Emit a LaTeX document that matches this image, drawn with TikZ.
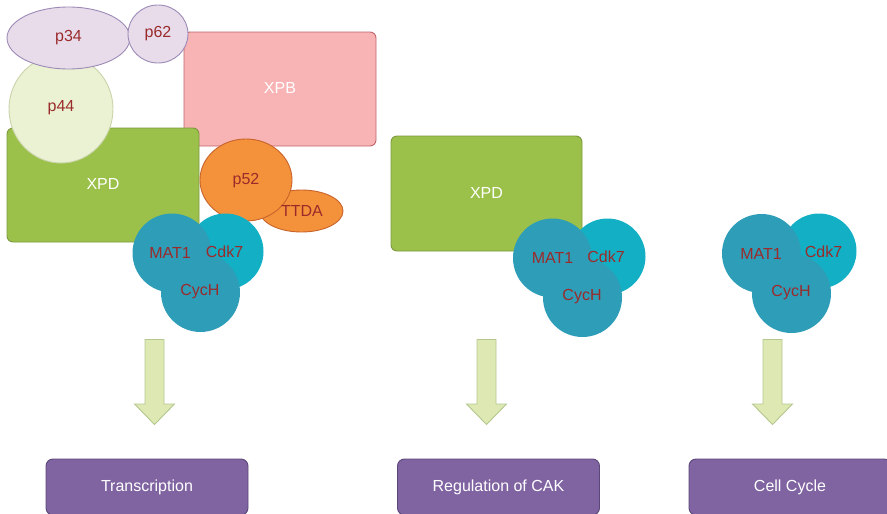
\documentclass[tikz,border=0pt]{standalone}
\usepackage{fontspec}
\setmainfont{Liberation Sans}
\usetikzlibrary{shapes.geometric}
\definecolor{lavfill}{HTML}{E8DCEB}
\definecolor{lavline}{HTML}{9C8AB6}
\definecolor{p44fill}{HTML}{EBF2D3}
\definecolor{p44line}{HTML}{C9D3A9}
\definecolor{xpbfill}{HTML}{F8B3B5}
\definecolor{xpbline}{HTML}{C2646C}
\definecolor{xpdfill}{HTML}{9BC14B}
\definecolor{xpdline}{HTML}{7C993D}
\definecolor{orfill}{HTML}{F4923B}
\definecolor{orline}{HTML}{C8632B}
\definecolor{tealA}{HTML}{2E9DB8}
\definecolor{tealB}{HTML}{13B0C5}
\definecolor{txtred}{HTML}{9A2B2B}
\definecolor{arfill}{HTML}{DEE8B3}
\definecolor{arline}{HTML}{B3C78E}
\definecolor{purfill}{HTML}{8064A2}
\definecolor{purline}{HTML}{5C4779}
\tikzset{
  lbl/.style={font=\fontsize{16}{19}\selectfont, inner sep=0pt},
  rtxt/.style={lbl, text=txtred},
  wtxt/.style={lbl, text=white},
  prot/.style={ellipse, inner sep=0pt},
  lav/.style={prot, fill=lavfill, draw=lavline, line width=0.9pt},
  pfour/.style={prot, fill=p44fill, draw=p44line, line width=0.9pt},
  orng/.style={prot, fill=orfill, draw=orline, line width=0.9pt},
  tcirc/.style={circle, inner sep=0pt, minimum size=79pt, fill=tealA},
  kcirc/.style={circle, inner sep=0pt, minimum size=76pt, fill=tealB},
  xpdbox/.style={rectangle, rounded corners=6pt, fill=xpdfill, draw=xpdline, line width=0.9pt, inner sep=0pt},
  xpbbox/.style={rectangle, rounded corners=6pt, fill=xpbfill, draw=xpbline, line width=0.9pt, inner sep=0pt},
  outbox/.style={rectangle, rounded corners=7pt, fill=purfill, draw=purline, line width=0.9pt, text=white, font=\fontsize{16}{19}\selectfont, minimum width=202pt, minimum height=56pt, inner sep=0pt},
  blockarrow/.style={fill=arfill, draw=arline, line width=0.9pt, line join=miter}
}
\begin{document}
\begin{tikzpicture}[x=1pt,y=-1pt]
\useasboundingbox (0,0) rectangle (887,514);
% left complex shapes
\node[xpbbox, minimum width=192pt, minimum height=114pt] (xpb) at (280,89) {};
\node[xpdbox, minimum width=192pt, minimum height=114pt] (xpd1) at (103,185) {};
\node[pfour, minimum width=104pt, minimum height=108pt] (p44) at (61,109) {};
\node[lav, minimum width=123pt, minimum height=62pt] (p34) at (68.5,38) {};
\node[lav, minimum width=60pt, minimum height=58pt] (p62) at (158,34) {};
\node[orng, minimum width=83pt, minimum height=42pt] (ttda) at (301.5,211) {};
\node[orng, minimum width=92pt, minimum height=82pt] (p52) at (246,180) {};
\node[kcirc] (cdk1) at (225.5,251.5) {};
\node[tcirc] (mat1) at (172,253) {};
\node[tcirc] (cyc1) at (200.5,292.5) {};
% middle complex shapes
\node[xpdbox, minimum width=191pt, minimum height=115pt] (xpd2) at (486.5,193.5) {};
\node[kcirc] (cdk2) at (607.5,256.5) {};
\node[tcirc] (mat2) at (552.5,258) {};
\node[tcirc] (cyc2) at (582.5,297.5) {};
% right complex shapes
\node[kcirc, minimum size=75pt] (cdk3) at (819,251) {};
\node[tcirc] (mat3) at (761.5,253.5) {};
\node[tcirc] (cyc3) at (791.5,293.5) {};
% labels on top
\node[wtxt] (xpbt) at (280,88) {XPB};
\node[wtxt] (xpd1t) at (103,184) {XPD};
\node[rtxt] (p44t) at (61,108) {p44};
\node[rtxt] (p34t) at (68.5,38) {p34};
\node[rtxt] (p62t) at (158,34) {p62};
\node[rtxt] (ttdat) at (302,211) {TTDA};
\node[rtxt] (p52t) at (246,181) {p52};
\node[rtxt] (cdk1t) at (224.5,252) {Cdk7};
\node[rtxt] (mat1t) at (170,253) {MAT1};
\node[rtxt] (cyc1t) at (200,292) {CycH};
\node[wtxt] (xpd2t) at (486.5,193) {XPD};
\node[rtxt] (cdk2t) at (606,257) {Cdk7};
\node[rtxt] (mat2t) at (552.5,258) {MAT1};
\node[rtxt] (cyc2t) at (582,297) {CycH};
\node[rtxt] (cdk3t) at (823.5,252) {Cdk7};
\node[rtxt] (mat3t) at (761,254) {MAT1};
\node[rtxt] (cyc3t) at (791,293) {CycH};
% block arrows
\coordinate (a1) at (154.5,339.5);
\coordinate (a2) at (486.5,339.5);
\coordinate (a3) at (772.5,339.5);
\foreach \a in {a1,a2,a3}{
  \draw[blockarrow] (\a) ++(-9.5,0) -- ++(19,0) -- ++(0,64.5) -- ++(10.5,0) -- ++(-20,20.5) -- ++(-20,-20.5) -- ++(10.5,0) -- cycle;
}
% outcome boxes
\node[outbox] (tr) at (147,487) {Transcription};
\node[outbox] (cak) at (498.5,487) {Regulation of CAK};
\node[outbox] (cc) at (790,487) {Cell Cycle};
\end{tikzpicture}
\end{document}
